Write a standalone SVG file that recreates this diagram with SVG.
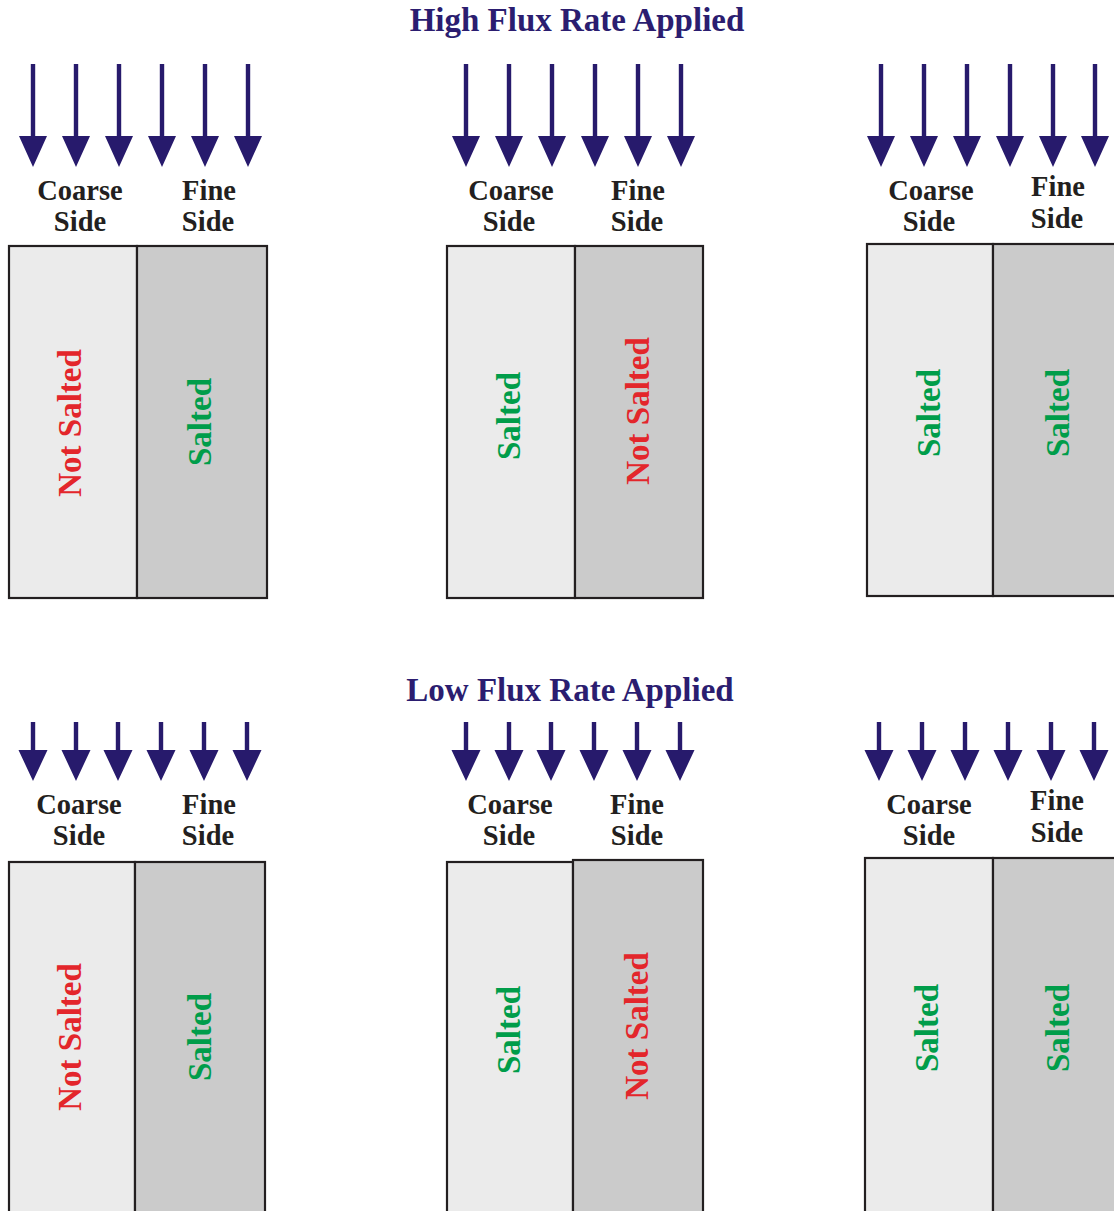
<svg xmlns="http://www.w3.org/2000/svg" width="1114" height="1211" viewBox="0 0 1114 1211">
<style>
.t{font-family:"Liberation Serif","Times New Roman",serif;font-weight:bold;fill:#2b1d70;font-size:33px;text-anchor:middle}
.l{font-family:"Liberation Serif","Times New Roman",serif;font-weight:bold;fill:#231f20;font-size:28.5px;text-anchor:middle}
.v{font-family:"Liberation Serif","Times New Roman",serif;font-weight:bold;font-size:33px;text-anchor:middle}
.red{fill:#e3262b}
.grn{fill:#009d4a}
.c{fill:#ebebeb;stroke:#231f20;stroke-width:2.2}
.f{fill:#cbcbcb;stroke:#231f20;stroke-width:2.2}
.a{fill:#271a6c}
</style>
<defs>
<path id="aL" d="M-2.2,0 H2.2 V72 H14 L0,103 L-14,72 H-2.2 Z"/>
<path id="aS" d="M-2.2,0 H2.2 V28 H14.5 L0,59 L-14.5,28 H-2.2 Z"/>
</defs>
<text class="t" x="577" y="31">High Flux Rate Applied</text>
<text class="t" x="570" y="701">Low Flux Rate Applied</text>

<g id="arrows" class="a">
<use href="#aL" x="33" y="64"/><use href="#aL" x="76" y="64"/><use href="#aL" x="119" y="64"/><use href="#aL" x="162" y="64"/><use href="#aL" x="205" y="64"/><use href="#aL" x="248" y="64"/>
<use href="#aL" x="466" y="64"/><use href="#aL" x="509" y="64"/><use href="#aL" x="552" y="64"/><use href="#aL" x="595" y="64"/><use href="#aL" x="638" y="64"/><use href="#aL" x="681" y="64"/>
<use href="#aL" x="881" y="64"/><use href="#aL" x="924" y="64"/><use href="#aL" x="967" y="64"/><use href="#aL" x="1010" y="64"/><use href="#aL" x="1053" y="64"/><use href="#aL" x="1095" y="64"/>
<use href="#aS" x="33" y="722"/><use href="#aS" x="76" y="722"/><use href="#aS" x="118" y="722"/><use href="#aS" x="161" y="722"/><use href="#aS" x="204" y="722"/><use href="#aS" x="247" y="722"/>
<use href="#aS" x="466" y="722"/><use href="#aS" x="509" y="722"/><use href="#aS" x="551" y="722"/><use href="#aS" x="594" y="722"/><use href="#aS" x="637" y="722"/><use href="#aS" x="680" y="722"/>
<use href="#aS" x="879" y="722"/><use href="#aS" x="922" y="722"/><use href="#aS" x="965" y="722"/><use href="#aS" x="1008" y="722"/><use href="#aS" x="1051" y="722"/><use href="#aS" x="1094" y="722"/>
</g>

<g id="panel-high-1">
<text class="l" x="80" y="200">Coarse</text><text class="l" x="80" y="231">Side</text>
<text class="l" x="209" y="200">Fine</text><text class="l" x="208" y="231">Side</text>
<rect class="c" x="9" y="246" width="128" height="352"/>
<rect class="f" x="137" y="246" width="130" height="352"/>
<text class="v red" transform="translate(81,423) rotate(-90)">Not Salted</text>
<text class="v grn" transform="translate(211,422) rotate(-90)">Salted</text>
</g>

<g id="panel-high-2">
<text class="l" x="511" y="200">Coarse</text><text class="l" x="509" y="231">Side</text>
<text class="l" x="638" y="200">Fine</text><text class="l" x="637" y="231">Side</text>
<rect class="c" x="447" y="246" width="128" height="352"/>
<rect class="f" x="575" y="246" width="128" height="352"/>
<text class="v grn" transform="translate(520,416) rotate(-90)">Salted</text>
<text class="v red" transform="translate(649,411) rotate(-90)">Not Salted</text>
</g>

<g id="panel-high-3">
<text class="l" x="931" y="200">Coarse</text><text class="l" x="929" y="231">Side</text>
<text class="l" x="1058" y="196">Fine</text><text class="l" x="1057" y="228">Side</text>
<rect class="c" x="867" y="244" width="126" height="352"/>
<rect class="f" x="993" y="244" width="140" height="352"/>
<text class="v grn" transform="translate(940,413) rotate(-90)">Salted</text>
<text class="v grn" transform="translate(1069,413) rotate(-90)">Salted</text>
</g>

<g id="panel-low-1">
<text class="l" x="79" y="814">Coarse</text><text class="l" x="79" y="845">Side</text>
<text class="l" x="209" y="814">Fine</text><text class="l" x="208" y="845">Side</text>
<rect class="c" x="9" y="862" width="126" height="360"/>
<rect class="f" x="135" y="862" width="130" height="360"/>
<text class="v red" transform="translate(81,1037) rotate(-90)">Not Salted</text>
<text class="v grn" transform="translate(211,1037) rotate(-90)">Salted</text>
</g>

<g id="panel-low-2">
<text class="l" x="510" y="814">Coarse</text><text class="l" x="509" y="845">Side</text>
<text class="l" x="637" y="814">Fine</text><text class="l" x="637" y="845">Side</text>
<rect class="c" x="447" y="862" width="126" height="360"/>
<rect class="f" x="573" y="860" width="130" height="362"/>
<text class="v grn" transform="translate(520,1030) rotate(-90)">Salted</text>
<text class="v red" transform="translate(648,1026) rotate(-90)">Not Salted</text>
</g>

<g id="panel-low-3">
<text class="l" x="929" y="814">Coarse</text><text class="l" x="929" y="845">Side</text>
<text class="l" x="1057" y="810">Fine</text><text class="l" x="1057" y="842">Side</text>
<rect class="c" x="865" y="858" width="128" height="364"/>
<rect class="f" x="993" y="858" width="140" height="364"/>
<text class="v grn" transform="translate(938,1028) rotate(-90)">Salted</text>
<text class="v grn" transform="translate(1069,1028) rotate(-90)">Salted</text>
</g>
</svg>
